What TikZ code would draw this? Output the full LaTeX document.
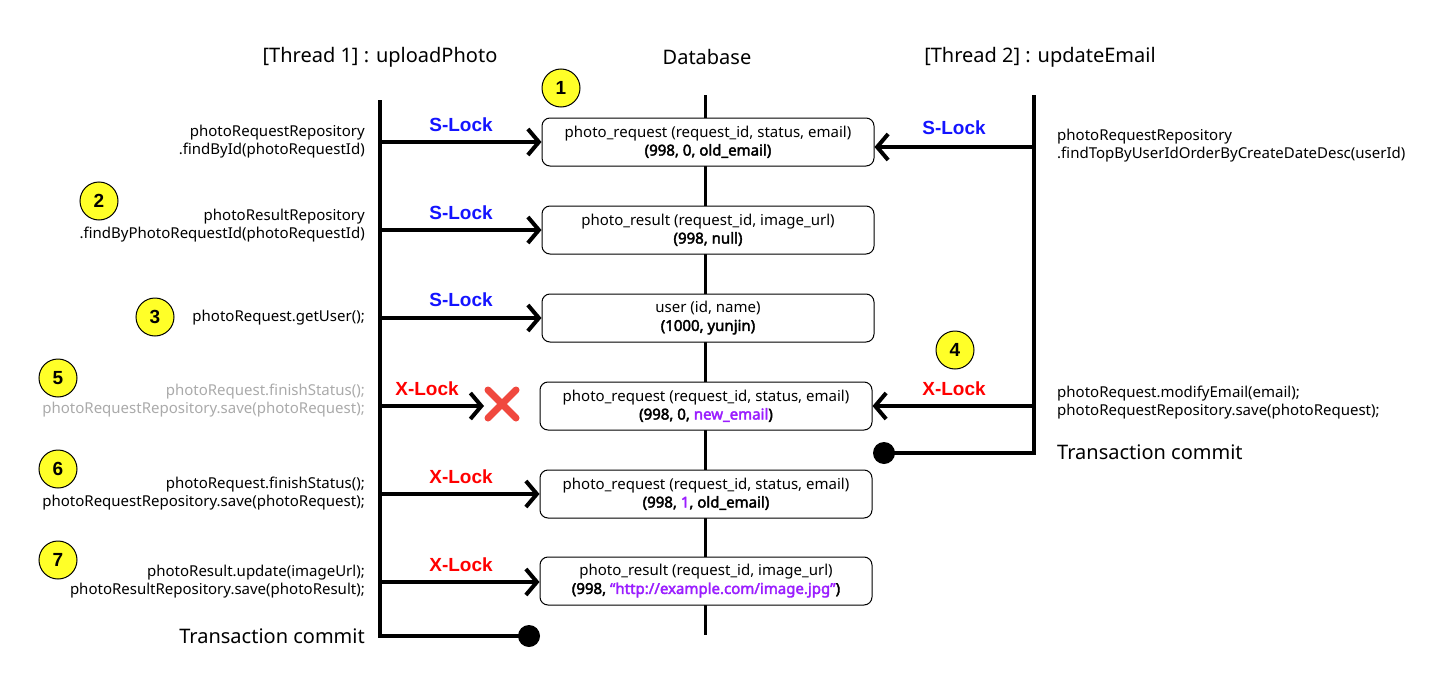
\documentclass[tikz,border=0pt]{standalone}
\usepackage{fontspec}
\setmainfont{Noto Sans}[AutoFakeBold=2.6]
\newfontfamily\lockfont{Liberation Sans}
\usetikzlibrary{arrows.meta,calc}
\definecolor{sblue}{RGB}{20,20,255}
\definecolor{xred}{RGB}{255,0,0}
\definecolor{xmark}{RGB}{240,72,62}
\definecolor{vio}{RGB}{155,30,255}
\definecolor{yel}{RGB}{255,255,40}
\definecolor{gtxt}{RGB}{170,170,170}
\tikzset{
  life/.style={line width=4pt},
  dblife/.style={line width=3pt},
  arr/.style={line width=4pt,-{Straight Barb[length=11pt,width=26pt,line width=4pt]}},
  dbbox/.style={draw,line width=1pt,rounded corners=8pt,fill=white,minimum width=332pt,minimum height=48pt,align=center,inner sep=0pt,font=\fontsize{15}{18}\selectfont},
  num/.style={circle,draw,line width=1pt,fill=yel,minimum size=38pt,inner sep=0pt,font=\lockfont\fontsize{19}{20}\selectfont\bfseries},
  code/.style={font=\fontsize{15}{18}\selectfont,inner sep=0pt},
  codel/.style={code,anchor=east,align=right},
  coder/.style={code,anchor=west,align=left},
  head/.style={font=\fontsize{20}{24}\selectfont,inner sep=0pt},
  commit/.style={font=\fontsize{20}{24}\selectfont,inner sep=0pt},
  slock/.style={font=\lockfont\fontsize{19}{22}\selectfont\bfseries,text=sblue,inner sep=0pt},
  xlock/.style={font=\lockfont\fontsize{19}{22}\selectfont\bfseries,text=xred,inner sep=0pt},
  dot/.style={circle,fill=black,minimum size=22pt,inner sep=0pt}
}
\begin{document}
\begin{tikzpicture}[x=1pt,y=-1pt]
\useasboundingbox (0,0) rectangle (1435,685);
% headers
\node[head] (h1) at (380,57) {[Thread 1] : uploadPhoto};
\node[head] (h2) at (707,57) {Database};
\node[head] (h3) at (1040,57) {[Thread 2] : updateEmail};
% database lifeline
\coordinate (dbtop) at (705,95);
\coordinate (dbbot) at (705,635);
\draw[dblife] (dbtop) -- (dbbot);
% boxes
\node[dbbox] (b1) at (708,142) {photo\_request (request\_id, status, email)\\\textbf{(998, 0, old\_email)}};
\node[dbbox] (b2) at (708,230) {photo\_result (request\_id, image\_url)\\\textbf{(998, null)}};
\node[dbbox] (b3) at (708,318) {user (id, name)\\\textbf{(1000, yunjin)}};
\node[dbbox] (b4) at (706,406) {photo\_request (request\_id, status, email)\\\textbf{(998, 0, \textcolor{vio}{new\_email})}};
\node[dbbox] (b5) at (706,494) {photo\_request (request\_id, status, email)\\\textbf{(998, \textcolor{vio}{1}, old\_email)}};
\node[dbbox] (b6) at (706,581) {photo\_result (request\_id, image\_url)\\\textbf{(998, \textcolor{vio}{“http://example.com/image.jpg”})}};
% thread 1 lifeline
\coordinate (t1top) at (380,100);
\coordinate (t1bot) at (380,636);
\node[dot] (d1) at (529,636) {};
\draw[life] (t1top) -- (t1bot) -- (d1.center);
% thread 2 lifeline
\coordinate (t2top) at (1034,95);
\coordinate (t2bot) at (1034,453);
\node[dot] (d2) at (884,453) {};
\draw[life] (t2top) -- (t2bot) -- (d2.center);
% thread 1 arrows
\coordinate (a1) at (380,142);
\coordinate (a2) at (380,230);
\coordinate (a3) at (380,318);
\coordinate (a5) at (380,406);
\coordinate (a5e) at (484,406);
\coordinate (a6) at (380,494);
\coordinate (a7) at (380,582);
\draw[arr] (a1) -- (b1.west);
\draw[arr] (a2) -- (b2.west);
\draw[arr] (a3) -- (b3.west);
\draw[arr] (a5) -- (a5e);
\draw[arr] (a6) -- (b5.west);
\draw[arr] (a7) -- (b6.west |- a7);
% thread 2 arrows
\coordinate (r1) at (1034,147);
\coordinate (r4) at (1034,406);
\draw[arr] (r1) -- (b1.east |- r1);
\draw[arr] (r4) -- (b4.east);
% red X
\coordinate (xc) at (502,404);
\draw[xmark,line width=7pt,line cap=round] ($(xc)+(-14,-14)$) -- ($(xc)+(14,14)$);
\draw[xmark,line width=7pt,line cap=round] ($(xc)+(-14,14)$) -- ($(xc)+(14,-14)$);
% lock labels
\node[slock] (l1) at (461,125) {S-Lock};
\node[slock] (l2) at (461,213) {S-Lock};
\node[slock] (l3) at (461,300) {S-Lock};
\node[xlock] (l5) at (427,389) {X-Lock};
\node[xlock] (l6) at (461,477) {X-Lock};
\node[xlock] (l7) at (461,565) {X-Lock};
\node[slock] (r1l) at (954,128) {S-Lock};
\node[xlock] (r4l) at (954,389) {X-Lock};
% numbered circles
\node[num] (n1) at (561,88) {1};
\node[num] (n2) at (99,201) {2};
\node[num] (n3) at (155,317) {3};
\node[num] (n4) at (955,350) {4};
\node[num] (n5) at (58,378) {5};
\node[num] (n6) at (58,469) {6};
\node[num] (n7) at (58,560) {7};
% left code
\node[codel] (c1) at (365,142) {photoRequestRepository\\.findById(photoRequestId)};
\node[codel] (c2) at (365,226) {photoResultRepository\\.findByPhotoRequestId(photoRequestId)};
\node[codel] (c3) at (365,318) {photoRequest.getUser();};
\node[codel,text=gtxt] (c5) at (365,401) {photoRequest.finishStatus();\\photoRequestRepository.save(photoRequest);};
\node[codel] (c6) at (365,494) {photoRequest.finishStatus();\\photoRequestRepository.save(photoRequest);};
\node[codel] (c7) at (365,582) {photoResult.update(imageUrl);\\photoResultRepository.save(photoResult);};
\node[commit,anchor=east] (cm1) at (365,636) {Transaction commit};
% right code
\node[coder] (rc1) at (1057,146) {photoRequestRepository\\.findTopByUserIdOrderByCreateDateDesc(userId)};
\node[coder] (rc4) at (1057,403) {photoRequest.modifyEmail(email);\\photoRequestRepository.save(photoRequest);};
\node[commit,anchor=west] (cm2) at (1057,452) {Transaction commit};
\end{tikzpicture}
\end{document}
